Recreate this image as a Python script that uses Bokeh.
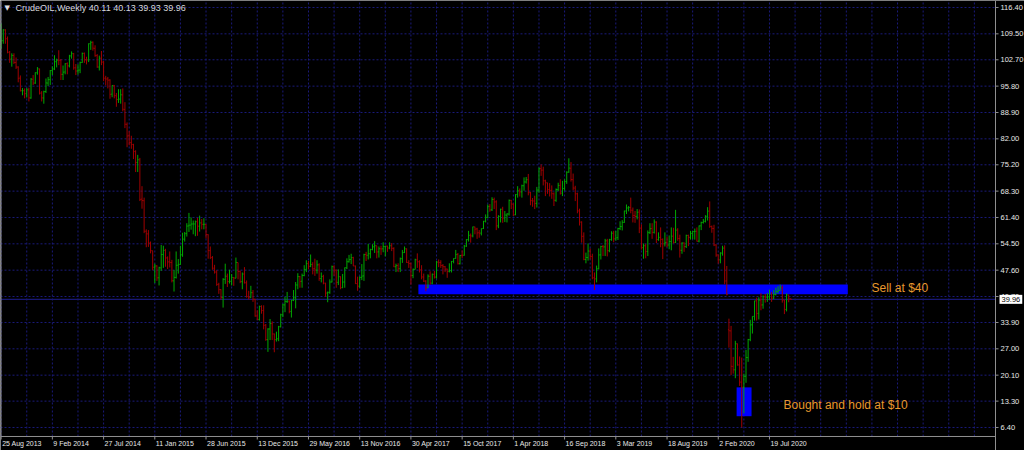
from bokeh.plotting import figure
from bokeh.models import Range1d, Label, ColumnDataSource
from bokeh.core.properties import value
from bokeh.embed import file_html
from bokeh.resources import INLINE

# ---------------- data (weekly CrudeOIL, one bar per week from 25 Aug 2013) ----------------
opens = [
    106.4, 107.7, 110.5, 108.2, 104.7, 102.9, 103.8, 102.0, 100.8, 97.9,
    94.6, 94.6, 93.8, 94.8, 92.7, 97.6, 96.6, 99.3, 100.3, 94.0,
    92.7, 94.4, 96.6, 97.5, 99.9, 100.3, 102.2, 102.6, 102.6, 98.9,
    99.5, 101.7, 101.1, 103.7, 104.3, 100.6, 99.8, 100.0, 102.0, 104.4,
    102.7, 102.7, 106.9, 107.3, 105.7, 103.8, 100.8, 103.1, 102.1, 97.9,
    97.7, 97.4, 93.7, 96.0, 93.3, 92.3, 92.4, 93.5, 89.7, 85.8,
    82.8, 81.0, 80.5, 78.7, 75.8, 76.5, 66.2, 65.8, 57.8, 57.1,
    54.7, 52.7, 48.4, 48.7, 45.6, 48.2, 51.7, 52.8, 50.8, 49.8,
    49.6, 44.8, 45.7, 48.9, 49.1, 51.6, 55.7, 57.2, 59.2, 59.4,
    59.7, 59.7, 60.3, 59.1, 60.0, 59.6, 59.6, 56.9, 52.7, 50.9,
    48.1, 47.1, 43.9, 42.5, 40.5, 45.2, 46.0, 44.6, 44.7, 45.7,
    45.5, 49.6, 47.3, 44.6, 46.6, 44.3, 40.7, 40.4, 41.7, 40.0,
    35.6, 34.7, 38.1, 37.0, 33.2, 29.4, 32.2, 33.6, 30.9, 29.4,
    29.6, 32.8, 35.9, 38.5, 39.4, 39.5, 36.8, 39.7, 40.4, 43.7,
    45.9, 44.7, 46.2, 47.8, 49.3, 48.6, 49.1, 48.0, 47.6, 49.0,
    45.4, 46.0, 44.2, 41.6, 41.8, 44.5, 48.5, 47.6, 44.4, 45.9,
    43.0, 44.5, 48.2, 49.8, 50.4, 50.9, 48.7, 44.1, 43.4, 45.7,
    46.1, 51.7, 51.5, 51.9, 53.0, 53.7, 54.0, 52.4, 53.2, 53.2,
    53.8, 53.9, 53.4, 54.0, 53.3, 48.5, 48.8, 48.0, 50.6, 52.2,
    53.2, 49.6, 49.3, 46.2, 47.8, 50.3, 49.8, 47.7, 45.8, 44.7,
    43.0, 46.0, 44.2, 46.5, 45.8, 49.7, 49.6, 48.8, 48.5, 47.9,
    47.3, 47.5, 49.9, 50.7, 51.7, 49.3, 51.5, 51.5, 53.9, 55.6,
    56.7, 56.6, 58.9, 58.4, 57.4, 57.3, 58.5, 60.4, 61.4, 64.3,
    63.4, 66.1, 65.5, 59.2, 61.7, 63.6, 61.3, 62.0, 62.3, 65.9,
    64.9, 62.1, 67.4, 68.4, 68.1, 69.7, 70.7, 71.3, 67.9, 65.8,
    65.7, 65.1, 68.6, 74.2, 73.8, 71.0, 70.5, 68.7, 68.5, 67.6,
    65.9, 68.7, 69.8, 67.8, 69.0, 70.8, 73.3, 74.3, 71.3, 69.1,
    67.6, 63.1, 60.2, 56.5, 50.4, 50.9, 52.6, 51.2, 45.6, 45.3,
    48.0, 51.6, 53.8, 53.7, 55.3, 52.7, 55.6, 57.3, 55.8, 56.1,
    58.5, 59.0, 60.1, 63.1, 63.9, 64.0, 63.3, 61.9, 61.7, 62.8,
    58.6, 53.5, 54.0, 52.5, 57.4, 58.5, 57.5, 60.2, 55.6, 56.2,
    55.7, 54.5, 54.9, 54.2, 55.1, 56.5, 54.9, 58.1, 55.9, 52.8,
    54.7, 53.8, 56.7, 56.2, 57.2, 57.7, 57.8, 55.2, 59.2, 60.1,
    60.4, 61.7, 63.1, 59.0, 58.5, 54.2, 51.6, 50.3, 52.1, 53.4,
    44.8, 32.0, 31.7, 22.4, 21.5, 28.3, 22.8, 18.3, 16.9, 19.8,
    24.7, 29.4, 33.3, 35.5, 39.6, 36.3, 39.8, 38.5, 40.6, 40.5,
    40.6, 41.3, 40.3, 41.2, 42.0, 42.3, 43.0, 39.8, 37.3, 41.1,
    40.11,
]
highs = [
    112.2, 110.7, 110.7, 108.8, 105.0, 104.4, 104.4, 103.3, 101.0, 98.6,
    95.3, 95.2, 95.3, 95.4, 97.9, 98.7, 99.4, 100.8, 100.4, 94.5,
    94.6, 97.8, 98.2, 100.0, 101.0, 103.9, 103.0, 105.2, 102.9, 101.2,
    101.8, 102.0, 104.0, 104.9, 104.5, 101.6, 101.5, 102.2, 104.6, 104.6,
    103.5, 107.0, 107.7, 107.5, 106.5, 104.2, 103.8, 105.0, 102.4, 98.5,
    98.2, 97.6, 96.0, 96.1, 94.0, 95.0, 95.0, 95.2, 91.6, 86.3,
    84.0, 82.8, 80.7, 79.0, 77.8, 77.0, 69.6, 66.6, 58.3, 58.1,
    55.1, 52.7, 49.3, 48.9, 48.5, 54.2, 54.0, 53.2, 51.2, 52.5,
    50.3, 47.6, 52.5, 50.5, 54.0, 57.4, 57.6, 59.9, 62.6, 61.4,
    60.6, 60.6, 61.3, 61.9, 61.0, 61.2, 59.7, 57.0, 53.8, 51.3,
    49.0, 47.6, 44.3, 42.6, 45.5, 49.3, 46.7, 47.7, 46.6, 45.8,
    50.9, 49.6, 47.5, 47.0, 48.4, 44.9, 42.2, 43.5, 42.4, 40.1,
    37.1, 38.3, 38.4, 38.4, 33.5, 32.4, 34.8, 34.2, 31.0, 31.5,
    33.0, 36.2, 38.8, 40.6, 41.9, 39.7, 39.8, 42.4, 44.5, 46.8,
    46.1, 46.7, 48.9, 50.2, 50.0, 51.7, 49.7, 50.6, 50.2, 49.4,
    47.0, 46.4, 44.3, 42.0, 45.2, 48.8, 48.9, 47.8, 47.8, 46.0,
    46.6, 48.3, 50.7, 51.6, 51.9, 51.1, 48.8, 45.9, 46.0, 49.2,
    51.9, 52.4, 54.5, 53.2, 54.4, 55.2, 54.0, 53.8, 54.0, 54.9,
    54.0, 54.0, 54.9, 54.7, 53.6, 49.3, 49.4, 50.9, 52.9, 53.8,
    53.3, 50.2, 49.6, 48.0, 50.6, 52.0, 50.2, 48.9, 46.7, 45.0,
    46.5, 47.3, 46.7, 47.4, 50.0, 50.4, 50.2, 49.2, 48.7, 48.0,
    49.4, 50.0, 50.7, 52.9, 52.1, 51.6, 52.8, 54.2, 55.7, 57.9,
    57.2, 59.0, 59.0, 58.7, 58.1, 58.5, 60.5, 62.2, 64.8, 64.9,
    66.7, 66.6, 65.9, 62.0, 63.7, 64.2, 63.1, 62.5, 66.1, 66.0,
    65.1, 67.5, 69.6, 69.0, 70.0, 71.9, 72.0, 72.8, 68.1, 66.5,
    67.1, 69.4, 74.5, 75.3, 74.7, 71.3, 70.5, 70.4, 69.8, 68.0,
    69.0, 70.5, 71.4, 71.0, 71.4, 73.5, 76.9, 75.9, 72.9, 69.7,
    67.9, 63.7, 60.4, 57.5, 52.2, 54.6, 53.3, 51.9, 47.0, 48.8,
    53.3, 54.0, 54.2, 55.8, 55.8, 55.8, 57.8, 57.9, 57.9, 58.7,
    60.4, 60.7, 63.2, 64.8, 64.4, 66.6, 64.0, 63.1, 63.6, 63.5,
    59.6, 54.6, 54.5, 58.0, 59.9, 59.9, 60.9, 60.4, 57.5, 58.8,
    55.9, 57.5, 56.4, 56.7, 58.8, 58.7, 63.4, 58.6, 56.9, 54.9,
    54.9, 56.9, 56.9, 57.9, 57.9, 58.5, 58.8, 59.3, 60.3, 61.0,
    62.0, 64.1, 65.6, 59.3, 59.5, 54.4, 51.7, 52.3, 54.0, 54.1,
    48.7, 34.9, 33.0, 24.9, 29.1, 28.4, 25.0, 24.7, 20.5, 26.7,
    29.6, 34.6, 35.5, 39.6, 40.4, 40.5, 41.6, 41.0, 41.4, 41.6,
    42.5, 41.9, 42.4, 43.0, 43.4, 43.8, 43.6, 39.8, 41.5, 41.2,
    40.13,
]
lows = [
    105.6, 106.9, 106.9, 104.4, 101.9, 100.9, 101.6, 100.3, 96.8, 94.4,
    93.4, 92.6, 92.8, 91.8, 92.5, 96.1, 96.4, 98.8, 93.6, 91.8,
    91.2, 94.0, 95.8, 96.1, 98.7, 100.0, 100.7, 101.3, 97.4, 97.4,
    98.9, 98.9, 100.7, 103.0, 100.1, 98.7, 98.8, 99.2, 101.9, 101.9,
    101.5, 102.1, 105.3, 105.1, 103.5, 100.6, 99.9, 101.3, 97.1, 96.0,
    95.2, 92.5, 92.9, 92.6, 90.4, 91.4, 91.2, 89.2, 84.8, 79.8,
    80.3, 79.4, 76.7, 73.3, 73.3, 65.7, 63.7, 57.3, 53.6, 53.7,
    52.0, 47.6, 44.2, 44.8, 43.6, 47.4, 48.2, 48.5, 47.9, 48.3,
    44.4, 42.0, 45.4, 46.7, 49.0, 51.1, 55.1, 56.4, 57.6, 58.2,
    57.0, 56.5, 56.6, 57.7, 58.3, 58.3, 55.9, 50.6, 50.5, 47.7,
    46.7, 43.5, 41.4, 39.9, 37.8, 44.0, 43.2, 44.1, 43.6, 43.5,
    45.5, 45.2, 44.2, 42.6, 44.1, 40.4, 39.9, 40.4, 39.3, 35.4,
    34.5, 34.4, 36.2, 32.1, 29.1, 26.2, 29.3, 29.3, 26.1, 28.9,
    29.0, 32.6, 35.3, 36.6, 39.0, 36.3, 35.2, 39.5, 37.6, 42.6,
    43.0, 43.0, 46.0, 47.1, 47.8, 48.4, 46.5, 46.1, 46.7, 44.8,
    44.4, 43.9, 40.6, 39.2, 41.4, 44.4, 46.1, 43.0, 43.7, 42.6,
    42.9, 43.0, 47.9, 49.6, 49.2, 48.7, 44.0, 42.2, 43.0, 45.0,
    44.8, 50.0, 50.4, 50.7, 52.8, 52.1, 50.7, 50.9, 51.6, 52.3,
    51.2, 52.4, 53.1, 52.6, 48.4, 47.1, 47.1, 47.1, 49.5, 52.1,
    49.5, 48.2, 43.8, 45.5, 47.8, 48.2, 47.0, 45.2, 44.5, 42.1,
    42.9, 43.8, 43.9, 45.4, 45.4, 48.4, 48.2, 46.5, 47.1, 45.6,
    47.0, 47.0, 49.4, 50.6, 49.1, 49.1, 50.8, 51.4, 53.7, 55.1,
    54.8, 56.2, 57.0, 55.8, 56.1, 56.7, 58.4, 60.1, 61.2, 62.9,
    63.1, 63.6, 58.1, 58.6, 60.1, 60.0, 60.2, 60.1, 61.9, 63.6,
    61.8, 62.0, 66.6, 66.9, 66.6, 68.4, 70.3, 67.2, 64.6, 64.2,
    63.6, 64.0, 67.9, 72.3, 69.8, 67.0, 67.6, 66.9, 66.3, 64.4,
    65.5, 68.3, 67.4, 67.0, 68.4, 70.2, 73.1, 70.8, 68.5, 65.7,
    62.5, 59.3, 54.8, 50.2, 49.4, 50.1, 50.4, 45.2, 42.4, 44.4,
    47.8, 50.4, 51.3, 51.3, 51.2, 52.3, 55.3, 54.9, 55.3, 55.5,
    58.1, 58.0, 60.0, 62.3, 63.0, 62.5, 60.1, 60.0, 60.9, 57.3,
    53.0, 50.6, 50.7, 51.3, 57.1, 55.8, 57.2, 54.7, 55.3, 53.6,
    50.5, 53.8, 53.6, 53.1, 52.8, 54.6, 54.7, 55.3, 50.9, 51.9,
    52.4, 53.4, 53.9, 55.6, 55.7, 55.6, 55.1, 54.9, 58.1, 59.8,
    60.1, 60.6, 58.7, 57.4, 53.9, 51.1, 49.3, 49.4, 51.4, 43.9,
    41.0, 27.3, 20.1, 20.5, 19.3, 22.6, 17.3, 6.4, 10.1, 18.1,
    23.6, 29.0, 31.0, 34.4, 34.4, 34.7, 37.1, 37.5, 39.1, 39.3,
    39.8, 39.3, 40.0, 41.0, 41.5, 42.2, 39.1, 36.1, 36.8, 39.2,
    39.93,
]
closes = [
    107.65, 110.53, 108.21, 104.67, 102.87, 103.84, 102.02, 100.81, 97.85, 94.61,
    94.60, 93.84, 94.84, 92.72, 97.65, 96.60, 99.32, 100.32, 93.96, 92.72,
    94.37, 96.64, 97.49, 99.88, 100.30, 102.20, 102.59, 102.58, 98.89, 99.46,
    101.67, 101.14, 103.74, 104.30, 100.60, 99.76, 99.99, 102.02, 104.35, 102.71,
    102.66, 106.91, 107.26, 105.74, 103.77, 100.83, 103.13, 102.09, 97.88, 97.65,
    97.35, 93.65, 95.96, 93.29, 92.27, 92.41, 93.54, 89.74, 85.82, 82.75,
    81.01, 80.54, 78.65, 75.82, 76.51, 66.15, 65.84, 57.81, 57.13, 54.73,
    52.69, 48.36, 48.69, 45.59, 48.24, 51.69, 52.78, 50.81, 49.76, 49.61,
    44.84, 45.72, 48.87, 49.14, 51.64, 55.74, 57.15, 59.15, 59.39, 59.69,
    59.72, 60.30, 59.13, 59.96, 59.61, 59.63, 56.93, 52.74, 50.89, 48.14,
    47.12, 43.87, 42.50, 40.45, 45.22, 46.05, 44.63, 44.68, 45.70, 45.54,
    49.63, 47.26, 44.60, 46.59, 44.29, 40.74, 40.39, 41.71, 39.97, 35.62,
    34.73, 38.10, 37.04, 33.16, 29.42, 32.19, 33.62, 30.89, 29.44, 29.64,
    32.78, 35.92, 38.50, 39.44, 39.46, 36.79, 39.72, 40.36, 43.73, 45.92,
    44.66, 46.21, 47.75, 49.33, 48.62, 49.07, 47.98, 47.64, 48.99, 45.41,
    45.95, 44.19, 41.60, 41.80, 44.49, 48.52, 47.64, 44.44, 45.88, 43.03,
    44.48, 48.24, 49.81, 50.35, 50.85, 48.70, 44.07, 43.41, 45.69, 46.06,
    51.68, 51.50, 51.90, 53.02, 53.72, 53.99, 52.37, 53.22, 53.17, 53.83,
    53.86, 53.40, 53.99, 53.33, 48.49, 48.78, 47.97, 50.60, 52.24, 53.18,
    49.62, 49.33, 46.22, 47.84, 50.33, 49.80, 47.66, 45.83, 44.74, 43.01,
    46.04, 44.23, 46.54, 45.77, 49.71, 49.58, 48.82, 48.51, 47.87, 47.29,
    47.48, 49.89, 50.66, 51.67, 49.29, 51.45, 51.47, 53.90, 55.64, 56.74,
    56.55, 58.95, 58.36, 57.36, 57.30, 58.47, 60.42, 61.44, 64.30, 63.37,
    66.14, 65.45, 59.20, 61.68, 63.55, 61.25, 62.04, 62.34, 65.88, 64.94,
    62.06, 67.39, 68.38, 68.10, 69.72, 70.70, 71.28, 67.88, 65.81, 65.74,
    65.06, 68.58, 74.15, 73.80, 71.01, 70.46, 68.69, 68.49, 67.63, 65.91,
    68.72, 69.80, 67.75, 68.99, 70.78, 73.25, 74.34, 71.34, 69.12, 67.59,
    63.14, 60.19, 56.46, 50.42, 50.93, 52.61, 51.20, 45.59, 45.33, 47.96,
    51.59, 53.80, 53.69, 55.26, 52.72, 55.59, 57.26, 55.80, 56.07, 58.52,
    59.04, 60.14, 63.08, 63.89, 64.00, 63.30, 61.94, 61.66, 62.76, 58.63,
    53.50, 53.99, 52.51, 57.43, 58.47, 57.51, 60.21, 55.63, 56.20, 55.66,
    54.50, 54.87, 54.17, 55.10, 56.52, 54.85, 58.09, 55.91, 52.81, 54.70,
    53.78, 56.66, 56.20, 57.24, 57.72, 57.77, 55.17, 59.20, 60.07, 60.44,
    61.72, 63.05, 59.04, 58.54, 54.19, 51.56, 50.32, 52.05, 53.38, 44.76,
    41.28, 31.73, 22.43, 21.51, 28.34, 22.76, 18.27, 16.94, 19.78, 24.74,
    29.43, 33.25, 35.49, 39.55, 36.26, 39.75, 38.49, 40.65, 40.55, 40.59,
    41.29, 40.27, 41.22, 42.01, 42.34, 42.97, 39.77, 37.33, 41.11, 40.25,
    39.96,
]

date_labels = ["25 Aug 2013", "9 Feb 2014", "27 Jul 2014", "11 Jan 2015", "28 Jun 2015",
               "13 Dec 2015", "29 May 2016", "13 Nov 2016", "30 Apr 2017", "15 Oct 2017",
               "1 Apr 2018", "16 Sep 2018", "3 Mar 2019", "18 Aug 2019", "2 Feb 2020",
               "19 Jul 2020"]
bars_per_label = 24
bars_per_vgrid = 12
price_levels = [116.40, 109.50, 102.70, 95.80, 88.90, 82.00, 75.20, 68.30, 61.40,
                54.50, 47.60, 40.70, 33.90, 27.00, 20.10, 13.30, 6.40]
symbol = "CrudeOIL,Weekly"
last_quote = [40.11, 40.13, 39.93, 39.96]

# analyst objects (bar index / price units)
sell_zone = dict(left=195.5, right=396.7, bottom=41.3, top=43.85)
buy_zone = dict(left=344.6, right=351.6, bottom=9.35, top=16.9)
sell_text = dict(x=407.8, y=42.8, text="Sell at $40")
buy_text = dict(x=366.6, y=12.2, text="Bought and hold at $10")

# ---------------- layout constants ----------------
W, H = 1024, 450
X_START = -0.3            # left edge of chart window (bar index)
X_BORDER = 465.9          # right border of chart window (bar index)
BORDER_FRAC = 995 / 1024  # chart window share of total width
X_END = X_START + (X_BORDER - X_START) / BORDER_FRAC
PX_PER_BAR = W / (X_END - X_START)
Y_END = 118.23            # top of the window (price)
Y_FLOOR = 4.04            # bottom border of the chart window (price)
Y_START = 0.37            # bottom of the whole picture (price units)
PX_PER_USD = H / (Y_END - Y_START)
DATE_Y = Y_FLOOR - 7.0 / PX_PER_USD
FONT = value("Liberation Sans")

# ---------------- figure ----------------
n = len(closes)
idx = list(range(n))
cols = ["#00a800" if c >= o else "#a00000" for o, c in zip(opens, closes)]
src = ColumnDataSource(dict(
    x=idx, xl=[i - 0.45 for i in idx], xr=[i + 0.45 for i in idx],
    o=opens, h=highs, l=lows, c=closes, col=cols))

p = figure(width=W, height=H, x_range=Range1d(X_START, X_END),
           y_range=Range1d(Y_START, Y_END),
           output_backend="svg", toolbar_location=None,
           background_fill_color="#000000", border_fill_color="#000000",
           min_border_left=0, min_border_top=0, min_border_right=0, min_border_bottom=0)
p.outline_line_color = None
p.axis.visible = False
p.grid.visible = False

GRID = dict(line_color="#1a1a7a", line_dash="2 2", line_width=1)
p.segment(x0=[X_START] * len(price_levels), x1=[X_BORDER] * len(price_levels),
          y0=price_levels, y1=price_levels, **GRID)
vg = list(range(0, int(X_BORDER) + 1, bars_per_vgrid))
p.segment(x0=vg, x1=vg, y0=[Y_FLOOR] * len(vg), y1=[Y_END] * len(vg), **GRID)

# zones
p.quad(fill_color="#0000ff", line_color=None, **{k: [v] for k, v in sell_zone.items()})
p.quad(fill_color="#0000ff", line_color=None, **{k: [v] for k, v in buy_zone.items()})
# bid line
p.segment(x0=[X_START], x1=[X_BORDER], y0=[last_quote[3]], y1=[last_quote[3]],
          line_color="#181872", line_width=1.2)

# OHLC bars
p.segment(x0="x", y0="l", x1="x", y1="h", color="col", line_width=1, source=src)
p.segment(x0="xl", y0="o", x1="x", y1="o", color="col", line_width=1, source=src)
p.segment(x0="x", y0="c", x1="xr", y1="c", color="col", line_width=1, source=src)

# chart window borders
BORDER = "#8f8f8f"
p.segment(x0=[X_BORDER], x1=[X_BORDER], y0=[Y_START], y1=[Y_END], line_color=BORDER, line_width=1)
p.segment(x0=[X_START], x1=[X_BORDER], y0=[Y_FLOOR], y1=[Y_FLOOR], line_color=BORDER, line_width=1)
p.segment(x0=[X_START], x1=[X_START], y0=[Y_FLOOR], y1=[Y_END], line_color=BORDER, line_width=2)

# price scale
tick_len = 3 / PX_PER_BAR
p.segment(x0=[X_BORDER] * len(price_levels), x1=[X_BORDER + tick_len] * len(price_levels),
          y0=price_levels, y1=price_levels, line_color=BORDER, line_width=1)
p.text(x=[X_BORDER] * len(price_levels), y=price_levels,
       text=[f"{v:.2f}" for v in price_levels], x_offset=5,
       text_font=FONT, text_font_size="7.5px", text_color="#e8e8e8",
       text_baseline="middle", text_align="left")
p.text(x=[X_BORDER], y=[last_quote[3]], text=[f"{last_quote[3]:.2f}"], x_offset=4,
       text_font=FONT, text_font_size="7.5px", text_color="#000000",
       text_baseline="middle", text_align="left",
       background_fill_color="#ffffff", padding=2)

# time scale
dt = [k * bars_per_label for k in range(len(date_labels))]
p.segment(x0=dt, x1=dt, y0=[Y_FLOOR] * len(dt), y1=[Y_FLOOR - 3 / PX_PER_USD] * len(dt),
          line_color=BORDER, line_width=1)
p.text(x=dt, y=[DATE_Y] * len(dt), text=date_labels, x_offset=1,
       text_font=FONT, text_font_size="7px", text_color="#e8e8e8",
       text_baseline="middle", text_align="left")

# header
p.add_layout(Label(x=X_START, y=Y_END, x_offset=4, y_offset=-3, text="\u25BC",
                   text_font="DejaVu Sans", text_font_size="7px",
                   text_color="#e0e0e0", text_baseline="top"))
p.add_layout(Label(x=X_START, y=Y_END, x_offset=15, y_offset=-2,
                   text=symbol + "  " + " ".join(f"{v:.2f}" for v in last_quote),
                   text_font="Liberation Sans", text_font_size="9px",
                   text_color="#d8d8d8", text_baseline="top"))

# analyst notes
for t in (sell_text, buy_text):
    p.add_layout(Label(x=t["x"], y=t["y"], text=t["text"], text_font="Liberation Sans",
                       text_font_size="12px", text_color="#e8982e",
                       text_baseline="middle", text_align="left"))

open("out.html", "w").write(file_html(p, INLINE))
